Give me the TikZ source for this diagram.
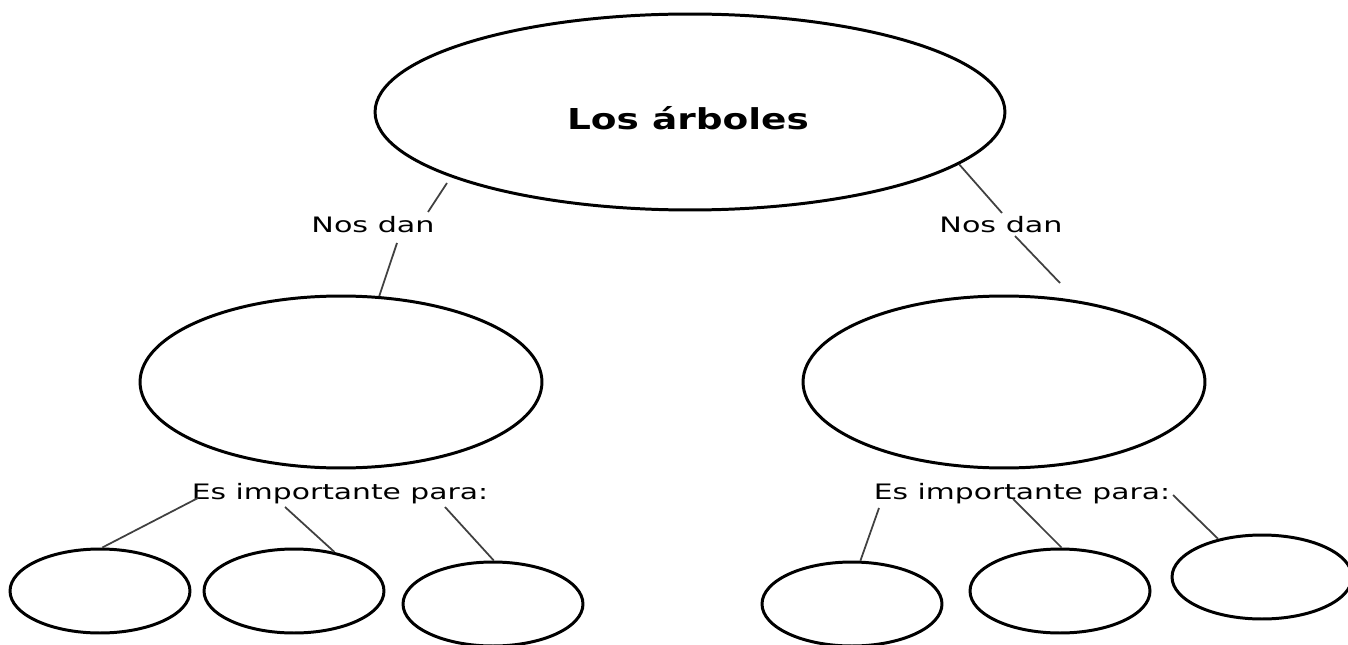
\documentclass[tikz,border=0pt]{standalone}
\usepackage{fontspec}
\setmainfont{DejaVu Sans}
\usepackage{graphicx}
\usetikzlibrary{shapes.geometric}
\tikzstyle{topic} = [ellipse, draw, line width=1.7pt, minimum width=12.6cm, minimum height=3.92cm, inner sep=0pt]
\tikzstyle{idea} = [ellipse, draw, line width=1.7pt, minimum width=8.04cm, minimum height=3.44cm, inner sep=0pt]
\tikzstyle{leaf} = [ellipse, draw, line width=1.7pt, minimum width=3.6cm, minimum height=1.68cm, inner sep=0pt]
\tikzstyle{linkword} = [anchor=base, inner sep=0pt, font=\fontsize{12.1}{14}\selectfont]
\tikzstyle{link} = [draw=black!75, line width=1pt]
\newcommand{\wide}[2][1.42]{\scalebox{#1}[1]{#2}}

\begin{document}
\begin{tikzpicture}[x=0.02cm, y=-0.02cm]
    \useasboundingbox (0,0) rectangle (1348,645);
    % main topic and the two ideas
    \node[topic] (top) at (690,112) {};
    \node[anchor=base, inner sep=0pt, font=\fontsize{16.4}{20}\selectfont\bfseries] (title) at (688,130) {\wide[1.3]{Los árboles}};
    \node[idea] (ml) at (341,382) {};
    \node[idea] (mr) at (1004,382) {};
    % leaves
    \node[leaf] (b1) at (100,591) {};
    \node[leaf] (b2) at (294,591) {};
    \node[leaf] (b3) at (493,604) {};
    \node[leaf] (b4) at (852,604) {};
    \node[leaf] (b5) at (1060,591) {};
    \node[leaf] (b6) at (1262,577) {};
    % linking words
    \node[linkword] (dl) at (373,233) {\wide{Nos dan}};
    \node[linkword] (dr) at (1001,233) {\wide{Nos dan}};
    \node[linkword] (el) at (340,499) {\wide[1.4]{Es importante para:}};
    \node[linkword] (er) at (1022,499) {\wide[1.4]{Es importante para:}};
    % free ends of the links
    \coordinate (dl-a) at (447,183);
    \coordinate (dl-b) at (428,212);
    \coordinate (dl-c) at (397,243);
    \coordinate (dr-b) at (1002,213);
    \coordinate (dr-c) at (1015,236);
    \coordinate (dr-d) at (1060,283);
    \coordinate (el-1) at (198,498);
    \coordinate (el-2) at (285,507);
    \coordinate (el-3) at (445,507);
    \coordinate (er-1) at (879,508);
    \coordinate (er-2) at (1013,499);
    \coordinate (er-3) at (1173,495);
    % links
    \draw[link] (dl-a) -- (dl-b);
    \draw[link] (dl-c) -- (ml.66.5);
    \draw[link] (top.-11.2) -- (dr-b);
    \draw[link] (dr-c) -- (dr-d);
    \draw[link] (el-1) -- (b1.87);
    \draw[link] (el-2) -- (b2.44);
    \draw[link] (el-3) -- (b3.89);
    \draw[link] (er-1) -- (b4.79);
    \draw[link] (er-2) -- (b5.88);
    \draw[link] (er-3) -- (b6.139);
\end{tikzpicture}
\end{document}
